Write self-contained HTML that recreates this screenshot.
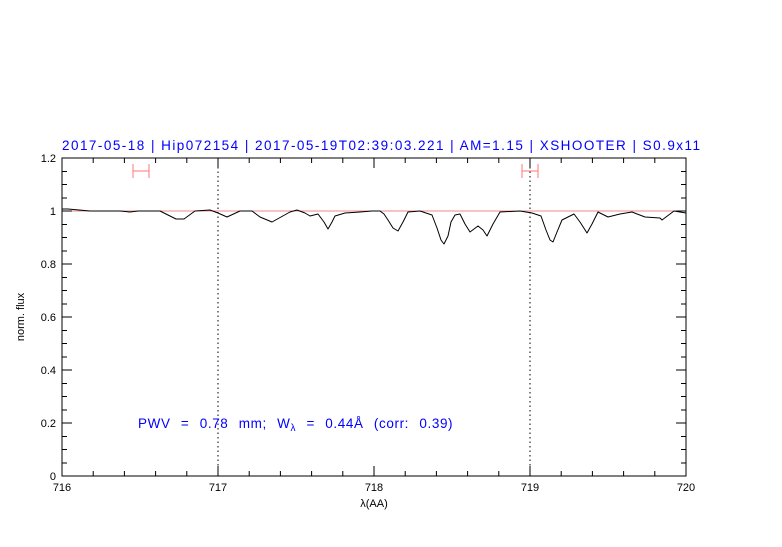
<!DOCTYPE html>
<html><head><meta charset="utf-8"><style>
body{margin:0;background:#fff;}
svg text{font-family:"Liberation Sans",sans-serif;}
</style></head><body>
<svg width="782" height="542" xmlns="http://www.w3.org/2000/svg">
<rect width="782" height="542" fill="#fff"/>
<text x="62" y="150" fill="#0000ff" font-size="13.5" textLength="638" lengthAdjust="spacing">2017-05-18 | Hip072154 | 2017-05-19T02:39:03.221 | AM=1.15 | XSHOOTER | S0.9x11</text>
<line x1="62" y1="211" x2="686" y2="211" stroke="#e88" stroke-width="1"/>
<line x1="218" y1="158" x2="218" y2="476" stroke="#000" stroke-dasharray="1.5,3"/>
<line x1="530" y1="158" x2="530" y2="476" stroke="#000" stroke-dasharray="1.5,3"/>
<g stroke="#f77" stroke-width="1">
<line x1="133" y1="171" x2="149" y2="171"/><line x1="133" y1="164" x2="133" y2="178"/><line x1="149" y1="164" x2="149" y2="178"/>
<line x1="522" y1="171" x2="538" y2="171"/><line x1="522" y1="164" x2="522" y2="178"/><line x1="538" y1="164" x2="538" y2="178"/>
</g>
<polyline fill="none" stroke="#000" stroke-width="1" stroke-linejoin="round" points="62,209 68,209 90,211 120,211 130,212 138,211 160,211 168,215 176,219 184,219 195,211 210,210 218,213 227,217 240,211 252,211 260,217 272,222 290,212 297,210 305,213 310,216 318,214 324,222 328,229 332,222 335,216 345,213 360,212 372,211 380,211 384,214 388,220 393,228 398,231 403,222 408,212 420,211 432,215 437,228 441,240 444,244 448,236 451,222 455,215 460,214 465,224 470,232 478,226 483,230 487,236 493,224 500,212 520,211 532,213 541,216 546,230 550,240 553,242 557,232 562,220 574,214 580,222 587,233 592,224 598,212 608,217 620,214 632,212 645,217 660,218 662,220 674,211 686,213"/>
<rect x="62" y="158" width="624" height="318" fill="none" stroke="#000"/>
<g stroke="#000">
<path d="M93.2,476v-5M124.4,476v-5M155.6,476v-5M186.8,476v-5M249.2,476v-5M280.4,476v-5M311.6,476v-5M342.8,476v-5M405.2,476v-5M436.4,476v-5M467.6,476v-5M498.8,476v-5M561.2,476v-5M592.4,476v-5M623.6,476v-5M654.8,476v-5M218,476v-10M374,476v-10M530,476v-10"/>
<path d="M93.2,158v5M124.4,158v5M155.6,158v5M186.8,158v5M249.2,158v5M280.4,158v5M311.6,158v5M342.8,158v5M405.2,158v5M436.4,158v5M467.6,158v5M498.8,158v5M561.2,158v5M592.4,158v5M623.6,158v5M654.8,158v5M218,158v10M374,158v10M530,158v10"/>
<path d="M62,463h5M62,449.5h5M62,436.5h5M62,410h5M62,396.5h5M62,383.5h5M62,357h5M62,343.5h5M62,330.5h5M62,304h5M62,290.5h5M62,277.5h5M62,251h5M62,237.5h5M62,224.5h5M62,198h5M62,184.5h5M62,171.5h5M62,423h10M62,370h10M62,317h10M62,264h10M62,211h10"/>
<path d="M686,463h-5M686,449.5h-5M686,436.5h-5M686,410h-5M686,396.5h-5M686,383.5h-5M686,357h-5M686,343.5h-5M686,330.5h-5M686,304h-5M686,290.5h-5M686,277.5h-5M686,251h-5M686,237.5h-5M686,224.5h-5M686,198h-5M686,184.5h-5M686,171.5h-5M686,423h-10M686,370h-10M686,317h-10M686,264h-10M686,211h-10"/>
</g>
<g font-size="11" text-anchor="middle" fill="#000">
<text x="62" y="491">716</text><text x="218" y="491">717</text><text x="374" y="491">718</text><text x="530" y="491">719</text><text x="686" y="491">720</text>
<text x="374" y="507">λ(AA)</text>
</g>
<g font-size="11" text-anchor="end" fill="#000">
<text x="56" y="480">0</text><text x="56" y="427">0.2</text><text x="56" y="374">0.4</text><text x="56" y="321">0.6</text><text x="56" y="268">0.8</text><text x="56" y="215">1</text><text x="56" y="162">1.2</text>
</g>
<text x="0" y="0" font-size="11" transform="translate(24,317) rotate(-90)" text-anchor="middle">norm. flux</text>
<text x="138" y="428" fill="#0000ff" font-size="13.5" word-spacing="6" letter-spacing="0.6">PWV = 0.78 mm; W<tspan font-size="10" dy="3">λ</tspan><tspan dy="-3"> = 0.44Å (corr: 0.39)</tspan></text>
</svg>
</body></html>
